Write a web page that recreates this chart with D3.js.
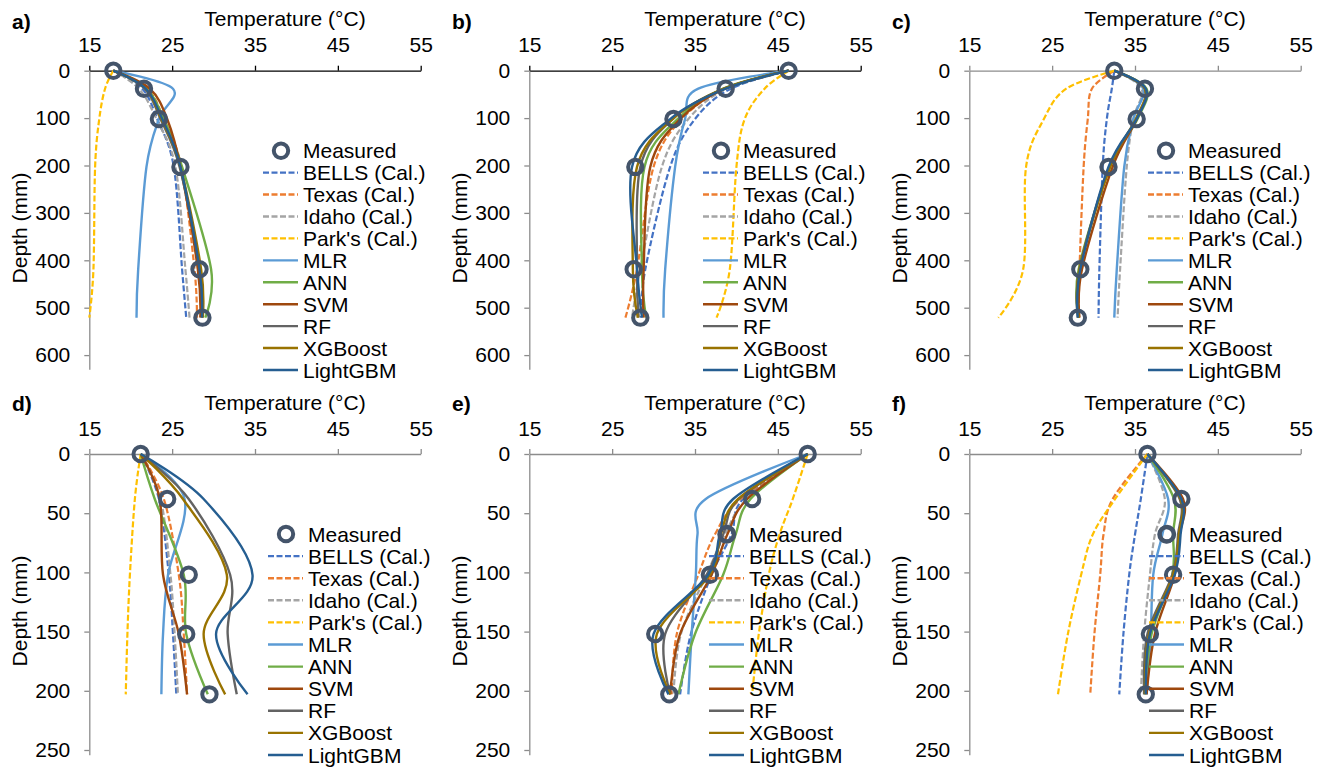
<!DOCTYPE html>
<html>
<head>
<meta charset="utf-8">
<script src="https://cdn.jsdelivr.net/npm/d3@7"></script>
<style>
  html, body { margin: 0; padding: 0; background: #fff; }
  svg text { font-family: "Liberation Sans", Arial, sans-serif; }
</style>
</head>
<body>
<svg id="chart" width="1325" height="769"></svg>
<script>
// ---- data -------------------------------------------------------------
const seriesNames = ["Measured", "BELLS (Cal.)", "Texas (Cal.)", "Idaho (Cal.)", "Park's (Cal.)",
                     "MLR", "ANN", "SVM", "RF", "XGBoost", "LightGBM"];
const tempTicks = [15, 25, 35, 45, 55];
const depthTicksDeep = [0, 100, 200, 300, 400, 500, 600];
const depthTicksShallow = [0, 50, 100, 150, 200, 250];

// sensor depths (mm)
const depthsDeep = [0, 38, 102, 203, 419, 521];
const depthsD = [0, 38, 102, 152, 203];
const depthsEF = [0, 38, 68, 102, 152, 203];

// temperatures (°C), one row per series in seriesNames order
const panelA = [
  [17.9, 21.6, 23.4, 26.0, 28.3, 28.65],
  [17.9, 21.4, 23.2, 25.2, 26.2, 26.7],
  [17.9, 22.0, 24.0, 26.1, 27.7, 28.0],
  [17.9, 21.0, 23.1, 25.4, 26.6, 27.1],
  [17.9, 16.9, 16.2, 15.7, 15.5, 15.0],
  [17.9, 25.1, 23.4, 21.9, 20.9, 20.7],
  [17.9, 21.9, 24.0, 26.2, 29.7, 29.0],
  [17.9, 22.3, 24.4, 26.0, 28.1, 28.4],
  [17.9, 21.7, 23.6, 25.9, 28.4, 28.6],
  [17.9, 21.8, 23.7, 26.0, 28.5, 28.7],
  [17.9, 21.8, 23.8, 26.0, 28.3, 28.6]
];
const panelB = [
  [46.3, 38.7, 32.4, 27.8, 27.6, 28.4],
  [46.3, 39.3, 35.0, 32.0, 29.0, 28.5],
  [46.3, 38.6, 33.4, 30.0, 28.0, 26.6],
  [46.3, 38.8, 34.2, 31.0, 28.4, 27.4],
  [46.3, 43.4, 41.0, 40.0, 39.2, 37.6],
  [46.3, 35.4, 33.8, 32.6, 31.4, 31.2],
  [46.3, 38.4, 32.9, 28.9, 28.6, 29.1],
  [46.3, 38.6, 33.2, 29.6, 28.8, 28.8],
  [46.3, 38.5, 32.3, 28.4, 28.0, 28.2],
  [46.3, 38.5, 32.3, 28.0, 27.5, 28.1],
  [46.3, 38.7, 32.0, 27.4, 28.0, 28.6]
];
const panelC = [
  [32.5, 36.2, 35.2, 31.8, 28.4, 28.1],
  [32.5, 32.2, 31.6, 31.1, 30.7, 30.6],
  [32.5, 29.8, 29.3, 28.8, 28.3, 28.2],
  [32.5, 35.8, 34.8, 34.0, 33.2, 32.9],
  [32.5, 26.7, 24.0, 21.85, 21.5, 18.5],
  [32.5, 36.0, 34.8, 33.7, 32.8, 32.5],
  [32.5, 36.4, 35.3, 32.0, 28.2, 28.2],
  [32.5, 36.2, 35.2, 32.3, 28.6, 28.3],
  [32.5, 36.3, 35.2, 31.9, 28.3, 28.1],
  [32.5, 36.2, 35.1, 32.0, 28.3, 28.2],
  [32.5, 36.3, 35.2, 31.8, 28.4, 28.1]
];
const panelD = [
  [21.2, 24.4, 27.0, 26.7, 29.5],
  [21.2, 23.4, 24.6, 25.1, 25.5],
  [21.2, 24.0, 25.8, 26.4, 26.8],
  [21.2, 23.6, 24.8, 25.3, 25.7],
  [21.2, 20.5, 19.9, 19.6, 19.4],
  [21.2, 26.5, 24.5, 23.9, 23.7],
  [21.2, 22.9, 26.4, 26.7, 29.3],
  [21.2, 23.5, 23.9, 25.8, 26.8],
  [21.2, 27.0, 32.0, 31.7, 32.8],
  [21.2, 26.3, 31.6, 28.8, 31.4],
  [21.2, 28.8, 34.7, 30.3, 34.1]
];
const panelE = [
  [48.6, 41.9, 38.8, 36.8, 30.2, 31.9],
  [48.6, 40.8, 39.4, 37.0, 34.5, 33.2],
  [48.6, 40.5, 37.4, 35.4, 32.8, 32.2],
  [48.6, 41.3, 38.6, 36.4, 33.3, 32.4],
  [48.6, 46.8, 45.2, 43.9, 42.7, 41.9],
  [48.6, 36.3, 35.3, 35.1, 34.6, 34.2],
  [48.6, 41.7, 39.9, 38.4, 35.0, 33.0],
  [48.6, 41.3, 38.9, 37.0, 33.2, 32.0],
  [48.6, 40.3, 38.4, 36.4, 31.4, 32.0],
  [48.6, 40.2, 38.1, 36.8, 30.4, 32.0],
  [48.6, 39.6, 38.0, 36.6, 30.0, 31.8]
];
const panelF = [
  [36.5, 40.6, 38.8, 39.6, 36.8, 36.3],
  [36.5, 35.7, 35.0, 34.3, 33.6, 33.1],
  [36.5, 32.3, 31.2, 30.8, 30.1, 29.6],
  [36.5, 38.6, 37.4, 36.8, 36.1, 35.7],
  [36.5, 32.6, 29.9, 28.5, 26.9, 25.7],
  [36.5, 39.0, 38.3, 37.2, 36.9, 36.4],
  [36.5, 39.7, 39.6, 39.5, 37.0, 36.2],
  [36.5, 40.8, 40.4, 39.8, 37.4, 36.4],
  [36.5, 40.4, 40.2, 39.5, 36.5, 36.1],
  [36.5, 40.5, 40.3, 39.6, 36.7, 36.2],
  [36.5, 40.6, 40.5, 39.8, 36.8, 36.3]
];

// ---- styling ----------------------------------------------------------
const seriesColors = ["#44546A", "#4472C4", "#ED7D31", "#A5A5A5", "#FFC000",
                      "#5B9BD5", "#70AD47", "#9E480E", "#636363", "#997300", "#255E91"];
const seriesDashed = [false, true, true, true, true, false, false, false, false, false, false];

const FONT = 21;
const colX = [89.3, 529.3, 969.3];
const plotW = 331.4;
const rows = [
  { top: 70.7, maxDepth: 630, pxPerMm: 0.474, ticks: depthTicksDeep, titleY: 26, labelY: 29,
    depthTitleY: 228, legendY: 150.7, legendStep: 21.93 },
  { top: 454, maxDepth: 254, pxPerMm: 1.184, ticks: depthTicksShallow, titleY: 410, labelY: 411,
    depthTitleY: 611, legendY: 534, legendStep: 22.1 }
];
const panels = [
  { label: "a)", temps: panelA, depths: depthsDeep, col: 0, row: 0, legendX: 263, axisColor: "#000" },
  { label: "b)", temps: panelB, depths: depthsDeep, col: 1, row: 0, legendX: 263, axisColor: "#000" },
  { label: "c)", temps: panelC, depths: depthsDeep, col: 2, row: 0, legendX: 268, axisColor: "#8c8c8c" },
  { label: "d)", temps: panelD, depths: depthsD, col: 0, row: 1, legendX: 268, axisColor: "#8c8c8c" },
  { label: "e)", temps: panelE, depths: depthsEF, col: 1, row: 1, legendX: 269, axisColor: "#8c8c8c" },
  { label: "f)", temps: panelF, depths: depthsEF, col: 2, row: 1, legendX: 269, axisColor: "#8c8c8c" }
];

const svg = d3.select("#chart");

panels.forEach(p => {
  const r = rows[p.row];
  const ox = p.col * 440;
  const x0 = colX[p.col];
  const x = d3.scaleLinear().domain([15, 55]).range([x0, x0 + plotW]);
  const y = d3.scaleLinear().domain([0, r.maxDepth]).range([r.top, r.top + r.maxDepth * r.pxPerMm]);

  const g = svg.append("g");

  // temperature axis along the top
  const xa = g.append("g")
    .attr("transform", `translate(0,${r.top})`)
    .call(d3.axisTop(x).tickValues(tempTicks).tickSize(5).tickPadding(13.5).tickSizeOuter(0));
  xa.style("color", p.axisColor).attr("font-size", FONT).attr("font-family", null);
  xa.selectAll("path, line").attr("stroke-width", 1.3);
  xa.selectAll("text").attr("fill", "#000");

  // depth axis on the left
  const ya = g.append("g")
    .attr("transform", `translate(${x0},0)`)
    .call(d3.axisLeft(y).tickValues(r.ticks).tickSize(5).tickPadding(14).tickSizeOuter(0));
  ya.style("color", "#8c8c8c").attr("font-size", FONT).attr("font-family", null);
  ya.selectAll("path, line").attr("stroke-width", 1.3);
  ya.selectAll("text").attr("fill", "#000");

  // titles
  g.append("text").attr("x", ox + 285).attr("y", r.titleY)
    .attr("text-anchor", "middle").attr("font-size", FONT).attr("fill", "#000")
    .text("Temperature (°C)");
  g.append("text")
    .attr("transform", `translate(${ox + 27},${r.depthTitleY}) rotate(-90)`)
    .attr("text-anchor", "middle").attr("font-size", FONT).attr("fill", "#000")
    .text("Depth (mm)");
  g.append("text").attr("x", ox + 12).attr("y", r.labelY)
    .attr("font-size", FONT).attr("font-weight", "bold").attr("fill", "#000")
    .text(p.label);

  // smoothed model / calculated profiles
  const line = d3.line().x(d => x(d.t)).y(d => y(d.d)).curve(d3.curveCardinal.tension(0));
  for (let s = 1; s < seriesNames.length; s++) {
    const pts = p.depths.map((d, i) => ({ d, t: p.temps[s][i] }));
    g.append("path").datum(pts).attr("d", line)
      .attr("fill", "none").attr("stroke", seriesColors[s])
      .attr("stroke-width", seriesDashed[s] ? 2.2 : 2.4)
      .attr("stroke-dasharray", seriesDashed[s] ? "6,2.5" : null)
      .attr("stroke-linejoin", "round");
  }

  // measured profile markers, on top of the curves
  const measured = p.depths.map((d, i) => ({ d, t: p.temps[0][i] }));
  g.append("g").selectAll("circle").data(measured).join("circle")
    .attr("cx", d => x(d.t)).attr("cy", d => y(d.d)).attr("r", 7.2)
    .attr("fill", "none").attr("stroke", seriesColors[0]).attr("stroke-width", 4);

  // legend
  const lg = g.append("g");
  seriesNames.forEach((name, s) => {
    const ly = r.legendY + s * r.legendStep;
    const lx = ox + p.legendX;
    if (s === 0) {
      lg.append("circle").attr("cx", lx + 18).attr("cy", ly).attr("r", 7.2)
        .attr("fill", "none").attr("stroke", seriesColors[0]).attr("stroke-width", 4);
    } else {
      lg.append("line").attr("x1", lx).attr("x2", lx + 35).attr("y1", ly).attr("y2", ly)
        .attr("stroke", seriesColors[s]).attr("stroke-width", 2.4)
        .attr("stroke-dasharray", seriesDashed[s] ? "6,2.5" : null);
    }
    lg.append("text").attr("x", lx + 40).attr("y", ly + 7.5)
      .attr("font-size", FONT).attr("fill", "#000").text(name);
  });
});
</script>
</body>
</html>
